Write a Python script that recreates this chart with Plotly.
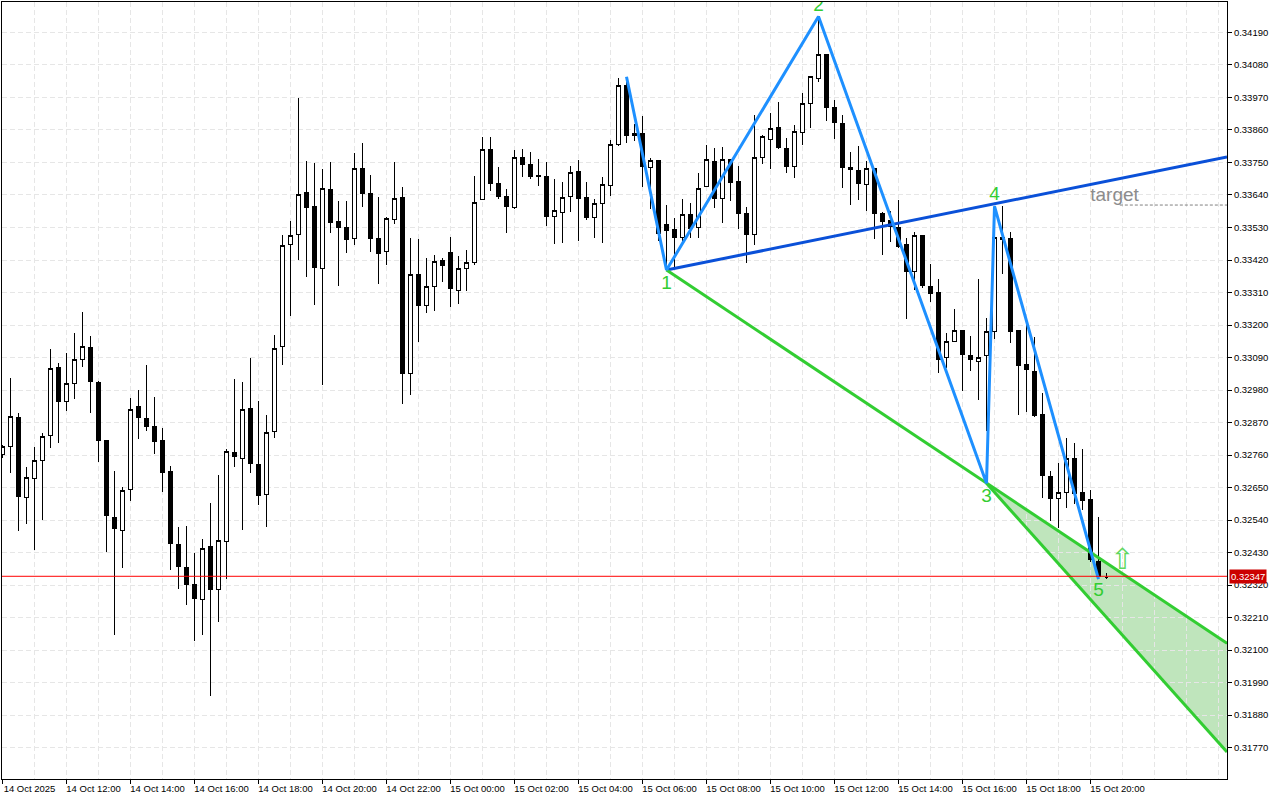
import pandas as pd
import plotly.graph_objects as go

# Prices in points (1 point = 0.00001)
POINT = 1e-5
open_pts = [32763,32789,32887,32617,32681,32742,32827,33057,32942,33003,33084,33124,33006,32810,32549,32505,32644,32925,32884,32857,
            32810,32705,32458,32380,32322,32272,32451,32305,32468,32769,32749,32918,32728,32626,32840,33128,33473,33507,33649,33602,
            33391,33659,33551,33531,33493,33730,33646,33493,33449,33558,33632,33036,33372,33266,33331,33419,33446,33318,33392,33412,
            33625,33795,33680,33636,33598,33768,33744,33707,33703,33568,33581,33636,33720,33632,33565,33612,33673,33812,34011,33842,
            33849,33734,33757,33541,33524,33497,33575,33530,33669,33754,33628,33761,33686,33576,33506,33768,33829,33869,33798,33736,
            33852,33949,34035,34116,33937,33883,33734,33724,33675,33730,33576,33555,33531,33471,33381,33503,33331,33311,33089,33144,
            33182,33097,33076,33096,33179,33497,33493,33182,33067,33043,32898,32688,32612,32634,32749,32634,32610,32400,32347]
high_pts = [32795,33019,32901,32718,32787,32833,33118,33070,33104,33172,33243,33162,33010,32811,32705,32651,32952,32980,33063,32958,
            32850,32722,32515,32519,32427,32475,32596,32691,32781,33016,33006,33087,32942,32894,33165,33504,33551,33967,33754,33747,
            33727,33751,33619,33619,33781,33815,33707,33632,33565,33751,33666,33493,33490,33426,33436,33426,33497,33433,33453,33703,
            33835,33835,33734,33659,33791,33795,33785,33761,33750,33693,33683,33737,33757,33683,33625,33700,33825,34035,34041,33879,
            33906,33764,33757,33605,33561,33625,33612,33713,33808,33798,33801,33761,33737,33598,33910,33842,33917,33954,33832,33876,
            33984,34042,34244,34116,33960,33910,33785,33805,33754,33730,33581,33585,33622,33493,33514,33505,33405,33355,33172,33253,
            33182,33162,33355,33223,33497,33602,33514,33182,33199,33158,32969,32705,32732,32816,32799,32782,32640,32549,32359]
low_pts = [32750,32700,32504,32528,32440,32541,32785,32802,32910,32951,33059,32903,32737,32433,32152,32379,32605,32815,32842,32764,
           32636,32372,32308,32253,32132,32152,31946,32196,32339,32720,32506,32700,32592,32517,32818,33063,33232,33421,33364,33269,
           32998,33513,33333,33445,33472,33601,33448,33340,33404,33543,32931,32964,33144,33242,33249,33347,33262,33272,33315,33402,
           33623,33655,33628,33513,33592,33702,33695,33672,33536,33475,33479,33584,33486,33557,33496,33479,33635,33807,33817,33824,
           33668,33594,33483,33386,33398,33482,33496,33496,33668,33597,33546,33618,33526,33411,33472,33746,33729,33794,33716,33699,
           33810,33868,34024,33892,33831,33662,33607,33624,33587,33492,33438,33482,33462,33221,33318,33324,33279,33039,33053,33141,
           32978,33045,32947,32842,33154,33374,33140,32897,32907,32888,32615,32538,32514,32582,32595,32574,32397,32348,32342]
close_pts = [32788,32891,32619,32684,32742,32823,33053,32940,33003,33084,33128,33008,32808,32555,32511,32640,32915,32886,32856,32805,
             32700,32460,32382,32321,32274,32444,32304,32471,32772,32754,32914,32731,32622,32837,33121,33470,33504,33642,33597,33394,
             33663,33546,33530,33489,33730,33645,33492,33442,33561,33629,33036,33372,33266,33331,33416,33401,33323,33392,33412,33615,
             33795,33678,33636,33601,33768,33743,33702,33702,33567,33588,33632,33717,33628,33563,33612,33676,33812,34011,33842,33849,
             33736,33757,33510,33519,33496,33575,33526,33663,33761,33628,33761,33682,33577,33506,33768,33839,33866,33800,33736,33856,
             33950,34042,34116,33937,33885,33734,33726,33678,33730,33577,33550,33533,33465,33381,33503,33333,33306,33083,33145,33182,
             33100,33083,33091,33179,33497,33489,33177,33062,33049,32895,32690,32612,32634,32749,32630,32605,32407,32350,32347]

bar_times = pd.date_range("2025-10-14 10:00", periods=len(open_pts), freq="15min")

tick_times = pd.date_range("2025-10-14 10:00", "2025-10-15 20:00", freq="2h")
tick_labels = ["14 Oct 2025"] + [t.strftime("%d Oct %H:%M") for t in tick_times[1:]]
grid_times = [t for t in pd.date_range("2025-10-14 11:00", "2025-10-16 00:00", freq="1h") if t not in tick_times]

price_ticks = [0.34190,0.34080,0.33970,0.33860,0.33750,0.33640,0.33530,0.33420,0.33310,0.33200,0.33090,0.32980,
               0.32870,0.32760,0.32650,0.32540,0.32430,0.32320,0.32210,0.32100,0.31990,0.31880,0.31770]
price_labels = [f"{p:.5f}" for p in price_ticks]

last_price = 0.32347
last_line_level = 0.323495
x_start, x_end = "2025-10-14 09:59:04", "2025-10-16 00:15:56"
y_low, y_high = 0.316634, 0.342932

# Wave 0-1-2-3-4-5
wave_times = ["2025-10-15 05:30", "2025-10-15 06:45", "2025-10-15 11:30", "2025-10-15 16:45", "2025-10-15 17:00", "2025-10-15 20:15"]
wave_prices = [0.34040, 0.33386, 0.34244, 0.32664, 0.33602, 0.32340]

# Pattern lines, from points 1 and 3 out to the right edge
line14_times = ["2025-10-15 06:45", x_end]
line14_prices = [0.33386, 0.33769]
line13_times = ["2025-10-15 06:45", x_end]
line13_prices = [0.33386, 0.32123]
line3x_times = ["2025-10-15 16:45", x_end]
line3x_prices = [0.32664, 0.31755]

# Labels
number_labels = ["1", "2", "3", "4", "5"]
number_times = ["2025-10-15 06:45", "2025-10-15 11:30", "2025-10-15 16:45", "2025-10-15 17:00", "2025-10-15 20:15"]
number_prices = [0.33337, 0.34280, 0.32616, 0.33638, 0.32298]

target_times = ["2025-10-15 20:55", x_end]
target_prices = [0.33606, 0.33606]
target_label_time = "2025-10-15 20:45"
target_label_price = 0.33636
arrow_time = "2025-10-15 21:00"
arrow_price = 0.32400

GREEN = "#32cd32"
BLUE = "#1e90ff"
DARKBLUE = "#0a50d8"
FONT = "Liberation Sans"

fig = go.Figure()
fig.add_trace(go.Candlestick(
    x=bar_times,
    open=[v * POINT for v in open_pts], high=[v * POINT for v in high_pts],
    low=[v * POINT for v in low_pts], close=[v * POINT for v in close_pts],
    increasing=dict(fillcolor="#ffffff", line=dict(color="#000000", width=1)),
    decreasing=dict(fillcolor="#000000", line=dict(color="#000000", width=1)),
    whiskerwidth=0, showlegend=False, hoverinfo="skip",
))
for xs, ys, color, width in [
    (line14_times, line14_prices, DARKBLUE, 3),
    (line13_times, line13_prices, GREEN, 3),
    (line3x_times, line3x_prices, GREEN, 3),
    (wave_times, wave_prices, BLUE, 3),
]:
    fig.add_trace(go.Scatter(x=xs, y=ys, mode="lines", line=dict(color=color, width=width),
                             showlegend=False, hoverinfo="skip"))
fig.add_trace(go.Scatter(x=target_times, y=target_prices, mode="lines",
                         line=dict(color="#808080", width=1, dash="3px,2px"),
                         showlegend=False, hoverinfo="skip"))
fig.add_trace(go.Scatter(x=number_times, y=number_prices, mode="text", text=number_labels,
                         textposition="middle center", cliponaxis=True,
                         textfont=dict(family=FONT, size=19, color=GREEN),
                         showlegend=False, hoverinfo="skip"))
fig.add_trace(go.Scatter(x=[target_label_time], y=[target_label_price], mode="text", text=["target"],
                         textposition="middle center",
                         textfont=dict(family=FONT, size=19, color="#8c8c8c"),
                         showlegend=False, hoverinfo="skip"))
fig.add_trace(go.Scatter(x=[arrow_time], y=[arrow_price], mode="text", text=["\u21e7"],
                         textposition="middle center",
                         textfont=dict(family="DejaVu Sans", size=29, color="#5fd85f"),
                         showlegend=False, hoverinfo="skip"))

fill_path = (
    f"M {line3x_times[0].replace(' ', '_')},{line3x_prices[0]} "
    f"L {x_end.replace(' ', '_')},{line13_prices[1]} "
    f"L {x_end.replace(' ', '_')},{line3x_prices[1]} Z"
)

fig.update_layout(
    width=1280, height=800,
    margin=dict(l=1.5, r=52.5, t=1.5, b=20.5),
    paper_bgcolor="#ffffff", plot_bgcolor="#ffffff",
    font=dict(family=FONT, size=9.5, color="#000000"),
    showlegend=False,
    boxgap=0.38,
    shapes=[
        dict(type="path", path=fill_path, xref="x", yref="y", layer="below",
             fillcolor="#bfe5bc", line=dict(width=0)),
        dict(type="line", xref="paper", x0=0, x1=1, yref="y", y0=last_line_level, y1=last_line_level,
             layer="above", line=dict(color="#ff0000", width=1)),
    ],
    annotations=[
        dict(xref="paper", x=1, xanchor="left", xshift=2, yref="y", y=last_line_level, yanchor="middle",
             text=f"{last_price:.5f}", showarrow=False, bgcolor="#cc0000",
             font=dict(family=FONT, size=9.5, color="#ffffff"),
             borderpad=1),
    ],
    xaxis=dict(
        type="date", range=[x_start, x_end], rangeslider=dict(visible=False),
        tickmode="array", tickvals=list(tick_times), ticktext=tick_labels,
        ticks="outside", ticklen=4, tickcolor="#000000", tickwidth=1, ticklabelshift=27,
        ticklabelstandoff=-3,
        showline=True, linecolor="#000000", linewidth=1, mirror=True,
        showgrid=True, gridcolor="#e6e6e6", gridwidth=1, griddash="5px,3px",
        minor=dict(tickmode="array", tickvals=grid_times, showgrid=True, ticks="",
                   gridcolor="#e6e6e6", gridwidth=1, griddash="5px,3px"),
        zeroline=False,
        tickfont=dict(family=FONT, size=9.5, color="#000000"),
    ),
    yaxis=dict(
        side="right", range=[y_low, y_high],
        tickmode="array", tickvals=price_ticks, ticktext=price_labels,
        ticks="outside", ticklen=4, tickcolor="#000000", tickwidth=1,
        showline=True, linecolor="#000000", linewidth=1, mirror=True,
        showgrid=True, gridcolor="#e6e6e6", gridwidth=1, griddash="5px,3px",
        zeroline=False,
        tickfont=dict(family=FONT, size=9.5, color="#000000"),
    ),
)

fig.write_html("out.html", config={"displayModeBar": False},
               post_script="document.body.style.margin='0';document.body.style.overflow='hidden';"
                           "document.querySelectorAll('.boxes path').forEach(function(p){p.style.shapeRendering='crispEdges';});")
